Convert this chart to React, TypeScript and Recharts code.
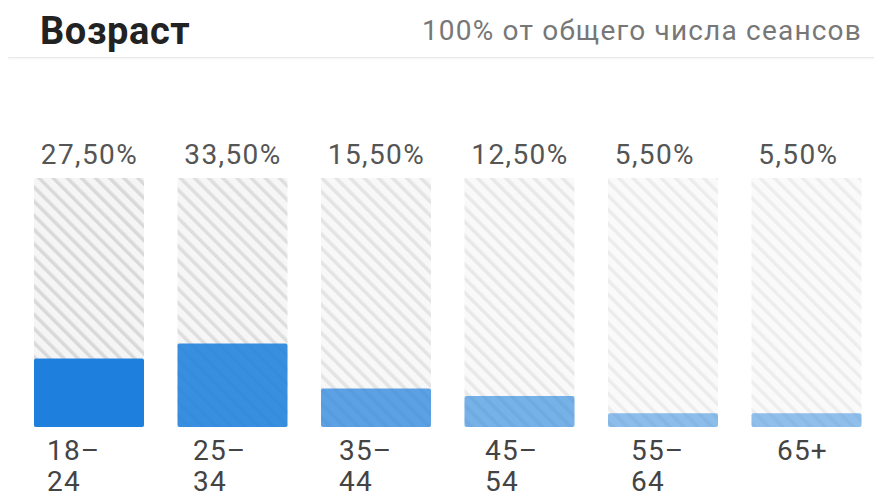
import { BarChart, Bar, XAxis, YAxis, Cell } from 'recharts';

// Age groups and their share of sessions (%)
const AGE_GROUPS = ['18–24', '25–34', '35–44', '45–54', '55–64', '65+'];
const SESSION_SHARE = [27.5, 33.5, 15.5, 12.5, 5.5, 5.5];

// Bars fade out towards the older groups
const BAR_OPACITY = [1, 0.88, 0.72, 0.6, 0.5, 0.48];
const BLUE = '#1E80DC';
const FONT = 'Roboto, "Noto Sans", sans-serif';

const formatPct = (v: number) => `${v.toFixed(2).replace('.', ',')}%`;

const data = AGE_GROUPS.map((age, i) => ({
    age,
    share: SESSION_SHARE[i],
    pct: formatPct(SESSION_SHARE[i]),
}));

const PctTick = ({ x, y, payload }: any) => (
    <text
        x={x - 48}
        y={y}
        dy={-14}
        fill="#555"
        fontSize={28}
        fontFamily={FONT}
        letterSpacing={1.4}
    >
        {payload.value}
    </text>
);

// "18–24" is wrapped after the dash, like in the original widget
const AgeTick = ({ x, y, payload }: any) => {
    const label: string = payload.value;
    const parts = label.includes('–') ? [label.split('–')[0] + '–', label.split('–')[1]] : [label];
    return (
        <text x={x - 31} y={y} fill="#444" fontSize={28} fontFamily={FONT} letterSpacing={1.2}>
            {parts.map((p, i) => (
                <tspan key={i} x={x - 31} dy={i === 0 ? 33 : 31}>
                    {p}
                </tspan>
            ))}
        </text>
    );
};

export default function App() {
    return (
        <div
            style={{
                position: 'fixed',
                left: 0,
                top: 0,
                width: 874,
                height: 493,
                overflow: 'hidden',
                background: '#fff',
                fontFamily: FONT,
            }}
        >
            <div
                style={{
                    position: 'absolute',
                    left: 40,
                    top: 12,
                    fontSize: 38,
                    lineHeight: '38px',
                    fontWeight: 700,
                    color: '#222',
                    letterSpacing: 0.6,
                }}
            >
                Возраст
            </div>
            <div
                style={{
                    position: 'absolute',
                    right: 12,
                    top: 16,
                    fontSize: 28,
                    lineHeight: '30px',
                    color: '#777',
                    letterSpacing: 1.2,
                }}
            >
                100% от общего числа сеансов
            </div>
            <div
                style={{
                    position: 'absolute',
                    left: 8,
                    right: 0,
                    top: 57,
                    height: 1,
                    background: '#e8e8e8',
                    boxShadow: '0 1px 2px rgba(0,0,0,0.06)',
                }}
            />
            <div style={{ position: 'absolute', left: 0, top: 0 }}>
                <BarChart
                    width={890}
                    height={520}
                    data={data}
                    margin={{ top: 120, right: 9, bottom: 27, left: 5 }}
                    barSize={110}
                >
                    <defs>
                        <pattern
                            id="hatch"
                            width="10"
                            height="10"
                            patternUnits="userSpaceOnUse"
                            patternTransform="rotate(-45)"
                        >
                            <rect width="10" height="10" fill="#f5f5f5" />
                            <line x1="0" y1="0" x2="0" y2="10" stroke="#d9d9d9" strokeWidth="7" />
                        </pattern>
                    </defs>
                    <XAxis
                        xAxisId="pct"
                        dataKey="pct"
                        orientation="top"
                        height={58}
                        padding={{ left: 12, right: 3 }}
                        axisLine={false}
                        tickLine={false}
                        tickSize={0}
                        tickMargin={0}
                        interval={0}
                        tick={<PctTick />}
                    />
                    <XAxis xAxisId="bars" dataKey="age" hide height={0} padding={{ left: 12, right: 3 }} />
                    <XAxis
                        xAxisId="labels"
                        dataKey="age"
                        height={66}
                        axisLine={false}
                        tickLine={false}
                        tickSize={0}
                        tickMargin={0}
                        interval={0}
                        tick={<AgeTick />}
                    />
                    <YAxis hide domain={[0, 100]} />
                    <Bar
                        xAxisId="bars"
                        dataKey="share"
                        radius={2}
                        background={{ fill: 'url(#hatch)' }}
                        isAnimationActive={false}
                    >
                        {data.map((d, i) => (
                            <Cell key={d.age} fill={BLUE} fillOpacity={BAR_OPACITY[i]} />
                        ))}
                    </Bar>
                </BarChart>
            </div>
        </div>
    );
}
